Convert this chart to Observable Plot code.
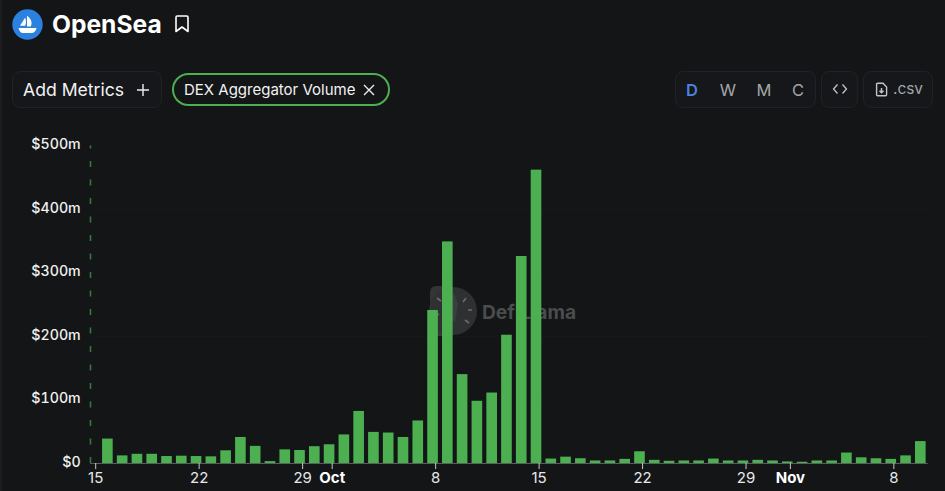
<!DOCTYPE html>
<html>
<head>
<meta charset="utf-8">
<script src="https://cdn.jsdelivr.net/npm/d3@7"></script>
<script src="https://cdn.jsdelivr.net/npm/@observablehq/plot@0.6"></script>
<style>
html,body{margin:0;padding:0;background:#131517;width:945px;height:491px;overflow:hidden;font-family:Inter,sans-serif;color:#fff}
#page{position:relative;width:945px;height:491px}
.a{position:absolute;box-sizing:border-box;white-space:nowrap}
.box{background:#15171a;border:1px solid #202225;border-radius:8px}
.c{display:flex;align-items:center;justify-content:center}
#chart{position:absolute;left:0;top:125px;z-index:2}
#chart svg{display:block}
</style>
</head>
<body>
<div id="page">
  <div class="a" style="left:0;top:0;width:2px;height:491px;background:#1a1c1e"></div>
  <svg class="a" style="left:12px;top:9px" width="31" height="31" viewBox="0 0 31 31">
    <circle cx="15.5" cy="15.5" r="15.2" fill="#2a81de"/>
    <path d="M8 16.8 L13.2 8.6 C14.2 11.5 14.2 14.5 13.2 16.8 Z M15 6.8 C19.5 9.8 20.6 14 18.8 17.4 L15 17.4 Z" fill="#fff"/>
    <path d="M6.5 19 H24.5 C23.6 22.8 21.5 24 19 24 H11 C8.8 24 7.2 22 6.5 19 Z" fill="#fff"/>
  </svg>
  <div class="a" style="left:52px;top:8px;font-size:24.6px;font-weight:700;line-height:32px">OpenSea</div>
  <svg class="a" style="left:174px;top:15px" width="16" height="18" viewBox="0 0 16 18">
    <path d="M2 2.2 Q2 1 3.2 1 H12.8 Q14 1 14 2.2 V16.5 L8 12 L2 16.5 Z" fill="none" stroke="#fff" stroke-width="1.6" stroke-linejoin="round"/>
  </svg>

  <div class="a box" style="left:12px;top:71px;width:150px;height:37px"></div>
  <div class="a" style="left:23px;top:78px;font-size:17.6px;line-height:24px;color:#f2f2f2">Add Metrics</div>
  <svg class="a" style="left:136px;top:83px" width="14" height="14"><path d="M7 1V13M1 7H13" stroke="#eee" stroke-width="1.4"/></svg>

  <div class="a" style="left:172px;top:73px;width:218px;height:33px;border:2px solid #4caf50;border-radius:17px"></div>
  <div class="a" style="left:184px;top:79px;font-size:15px;line-height:22px;color:#f2f2f2">DEX Aggregator Volume</div>
  <svg class="a" style="left:363px;top:84px" width="12" height="12"><path d="M1 1L11 11M11 1L1 11" stroke="#eee" stroke-width="1.4"/></svg>

  <div class="a box" style="left:675px;top:71px;width:141px;height:37px"></div>
  <div class="a c" style="left:677px;top:71px;width:30px;height:37px;font-size:16.5px;font-weight:600;color:#4b80dc">D</div>
  <div class="a c" style="left:713px;top:71px;width:30px;height:37px;font-size:16.5px;color:#a3a6a9">W</div>
  <div class="a c" style="left:749px;top:71px;width:30px;height:37px;font-size:16.5px;color:#a3a6a9">M</div>
  <div class="a c" style="left:783px;top:71px;width:30px;height:37px;font-size:16.5px;color:#a3a6a9">C</div>
  <div class="a box" style="left:821px;top:71px;width:37px;height:37px"></div>
  <svg class="a" style="left:832px;top:83px" width="16" height="12"><path d="M5.5 1.5L1.5 6L5.5 10.5M10.5 1.5L14.5 6L10.5 10.5" fill="none" stroke="#c2c4c6" stroke-width="1.3"/></svg>
  <div class="a box" style="left:863px;top:71px;width:70px;height:37px"></div>
  <svg class="a" style="left:875px;top:82px" width="13" height="15" viewBox="0 0 13 15">
    <path d="M1.6 2.2Q1.6 1.2 2.6 1.2H8L11.6 5V12.8Q11.6 13.8 10.6 13.8H2.6Q1.6 13.8 1.6 12.8Z" fill="none" stroke="#c2c4c6" stroke-width="1.4"/>
    <path d="M6.5 6V10.6M4.5 8.8L6.5 10.8L8.5 8.8" fill="none" stroke="#c2c4c6" stroke-width="1.5"/>
  </svg>
  <div class="a" style="left:893px;top:78px;font-size:15.4px;line-height:22px;color:#a3a6a9">.csv</div>

  <svg class="a" style="left:428px;top:284px;z-index:1" width="52" height="54" viewBox="0 0 52 54">
    <rect x="2" y="2" width="24" height="50" rx="6" fill="#333435"/>
    <circle cx="25" cy="27" r="24" fill="#2f3031"/>
    <path d="M26 9L30 20L27 38L21 34L18 18Z" fill="#3c3d3e"/>
    <path d="M38 14L35 18M44 26H40M41 39L37 36M9 14L13 17M7 32L11 30" stroke="#6a6b6c" stroke-width="1.6"/>
  </svg>
  <div class="a" style="left:482px;top:298px;z-index:1;font-size:19.2px;font-weight:700;line-height:28px;color:#4b4c4d">DefiLlama</div>

  <div id="chart"></div>
</div>
<script>
const firstDay = "2025-09-15";
const volumeDays = ["2025-09-16","2025-09-17","2025-09-18","2025-09-19","2025-09-20","2025-09-21","2025-09-22","2025-09-23","2025-09-24","2025-09-25","2025-09-26","2025-09-27","2025-09-28","2025-09-29","2025-09-30",
"2025-10-01","2025-10-02","2025-10-03","2025-10-04","2025-10-05","2025-10-06","2025-10-07","2025-10-08","2025-10-09","2025-10-10","2025-10-11","2025-10-12","2025-10-13","2025-10-14","2025-10-15","2025-10-16","2025-10-17","2025-10-18","2025-10-19","2025-10-20","2025-10-21","2025-10-22","2025-10-23","2025-10-24","2025-10-25","2025-10-26","2025-10-27","2025-10-28","2025-10-29","2025-10-30","2025-10-31",
"2025-11-01","2025-11-02","2025-11-03","2025-11-04","2025-11-05","2025-11-06","2025-11-07","2025-11-08","2025-11-09","2025-11-10"];
// DEX Aggregator Volume, $ millions
const volumes = [38.5,12,14.5,14.5,11,11.5,11,10.5,20,41,27,3,21.5,20.5,26.5,
29.5,45,82,49,48,41,67,241,349,140,98,111,202,326,462,7,10,7.5,4,4,6.5,18.5,5,3.5,4,4,7,4,4,5,4,
2.5,2,4,4,16.5,9,7.5,6.5,12,34.5];
const yTicks = [0,100,200,300,400,500];
const yLabels = ["$0","$100m","$200m","$300m","$400m","$500m"];
const dayTicks = ["2025-09-15","2025-09-22","2025-09-29","2025-10-08","2025-10-15","2025-10-22","2025-10-29","2025-11-08"];
const dayLabels = ["15","22","29","8","15","22","29","8"];
const monthTicks = ["2025-10-01","2025-11-01"];
const monthLabels = ["Oct","Nov"];

const domain = [firstDay].concat(volumeDays);
const rows = volumeDays.map((day, i) => ({day, value: volumes[i]}));
const green = "#4caf50";
const shift = 2.6;

const chart = Plot.plot({
  width: 945,
  height: 366,
  marginLeft: 85.2,
  marginRight: 17.3,
  marginTop: 20.5,
  marginBottom: 28,
  style: {background: "transparent", fontFamily: "Inter, sans-serif", fontSize: "15px"},
  x: {type: "band", domain, paddingInner: 0.28, paddingOuter: 0.14, round: false, label: null},
  y: {domain: [0, 500], label: null},
  marks: [
    Plot.ruleY(yTicks.slice(1), {stroke: "#16181a", strokeWidth: 1, insetLeft: 5}),
    Plot.ruleX([firstDay], {y1: 0, y2: 500, dx: -shift, stroke: "#357a3b", strokeWidth: 1.6, strokeDasharray: "6,12.5"}),
    Plot.barY(rows, {x: "day", y: "value", fill: green}),
    Plot.ruleY([0], {stroke: "#5a5d5f", strokeWidth: 1, insetLeft: 5}),
    Plot.axisY({
      ticks: yTicks, tickSize: 0, tickPadding: 5, dy: -1.5, fill: "#f0f0f0", fontSize: 14.2, fontWeight: 500,
      tickFormat: d => yLabels[yTicks.indexOf(d)], label: null
    }),
    Plot.axisX({
      ticks: dayTicks, tickSize: 6, tickPadding: 3, dx: shift, stroke: "#c9c9c9", fill: "#e8e8e8", fontSize: 15,
      tickFormat: d => dayLabels[dayTicks.indexOf(d)], label: null
    }),
    Plot.axisX({
      ticks: monthTicks, tickSize: 6, tickPadding: 3, dx: shift, stroke: "#c9c9c9", fill: "#ffffff", fontSize: 15, fontWeight: 700,
      tickFormat: d => monthLabels[monthTicks.indexOf(d)], label: null
    })
  ]
});
document.getElementById("chart").appendChild(chart);
</script>
</body>
</html>
